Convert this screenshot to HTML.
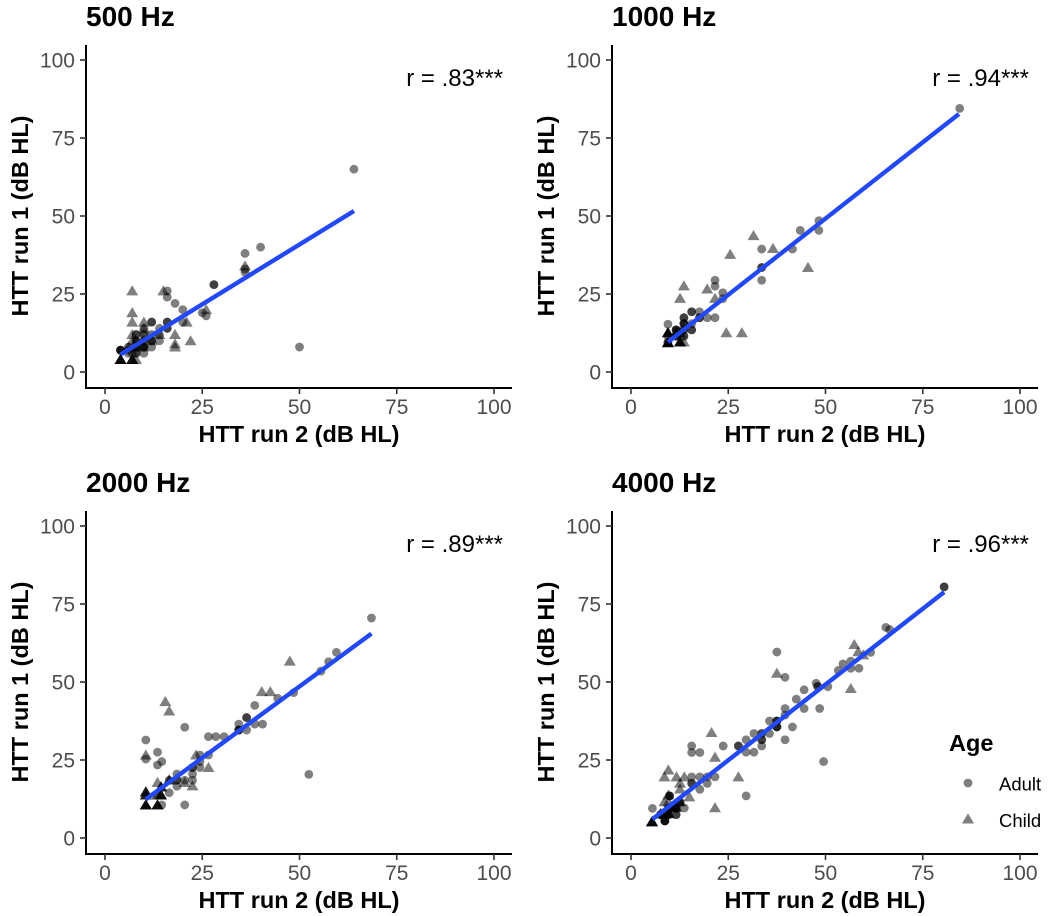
<!DOCTYPE html>
<html lang="en">
<head>
<meta charset="utf-8">
<title>HTT run 1 vs run 2 by frequency</title>
<style>
html,body{margin:0;padding:0;background:#fff;}
svg{display:block;font-family:"Liberation Sans",Arial,sans-serif;}
</style>
</head>
<body>
<svg id="chart" xmlns="http://www.w3.org/2000/svg" width="1050" height="916" viewBox="0 0 1050 916">
  <rect x="0" y="0" width="1050" height="916" fill="#ffffff"/>
</svg>
<script>
var tickValues = [0, 25, 50, 75, 100];
var xAxisLabel = 'HTT run 2 (dB HL)';
var yAxisLabel = 'HTT run 1 (dB HL)';

var adult500 = [[64,65],[50,8],[40,40],[36,38],[36,32],[36,33],[28,28],[28,28],[26,18],[25,19],[20,20],[18,22],[16,26],[16,24],[20,16],[16,16],[16,16],[16,14],[16,14],[14,14],[14,10],[12,16],[12,16],[12,12],[12,8],[10,14],[10,12],[10,12],[8,12],[8,12],[4,7],[4,7],[4,7],[4,7],[6,6],[6,7],[8,6],[8,6],[8,8],[8,8],[10,8],[10,8],[10,8],[10,10],[10,10],[12,10],[12,10],[8,10],[8,10],[6,8],[8,8],[7,6],[10,6],[14,12]];
var child500 = [[7,26],[15,26],[7,19],[7,16],[10,16],[21,16],[26,20],[36,34],[18,12],[22,10],[18,8],[18,9],[10,14],[7,12],[8,10],[7,10],[4,4],[4,4],[4,4],[4,4],[4,4],[7,4],[7,4],[7,4],[7,4],[8,4],[6,8],[8,8],[10,8],[14,12],[12,10]];
var line500X = [4, 64];
var line500Y = [5.6, 51.6];
var r500 = 'r = .83***';

var adult1000 = [[84.5,84.5],[48.3,48.5],[48.3,45.4],[43.5,45.4],[41.5,39.4],[33.6,39.4],[33.6,33.5],[33.6,33.5],[33.6,29.4],[21.6,29.4],[21.6,27.5],[23.6,25.4],[23.6,23.5],[15.6,19.3],[15.6,19.3],[17.6,19.3],[19.6,17.4],[21.6,17.4],[17.6,17.4],[17.6,17.4],[13.6,17.4],[13.6,17.4],[15.6,15.5],[9.5,15.3],[15.6,13.5],[15.6,13.5],[13.6,15.5],[13.6,15.5],[13.6,15.5],[11.6,13.5],[11.6,13.5],[11.6,13.5],[13.6,13.5],[13.6,13.5],[11.6,11.5],[11.6,11.5],[11.6,11.5],[13.6,11.5],[13.6,11.5],[9.5,11.5],[9.5,9.5],[9.5,9.5]];
var child1000 = [[31.5,43.7],[36.5,39.6],[25.5,37.7],[45.5,33.5],[13.6,27.6],[19.6,26.6],[12.6,23.6],[21.6,23.6],[24.5,12.6],[28.5,12.6],[9.5,9.4],[9.5,9.4],[9.5,9.4],[9.5,9.4],[9.5,9.4],[9.5,12.6],[9.5,12.6],[9.5,12.6],[9.5,12.6],[12.6,9.6],[12.6,9.6],[12.6,9.6],[12.6,9.6],[12.6,9.6],[13.6,9.6],[11.6,12.6],[11.6,12.6],[11.6,12.6],[12.6,12.6],[12.6,12.6]];
var line1000X = [9.5, 84.3];
var line1000Y = [9.6, 82.7];
var r1000 = 'r = .94***';

var adult2000 = [[68.5,70.5],[59.5,59.5],[57.5,56.5],[55.5,53.5],[52.4,20.4],[48.5,46.6],[44.4,44.8],[40.5,36.5],[38.5,42.5],[38.5,36.5],[36.4,38.6],[36.4,38.6],[36.4,34.6],[34.4,36.5],[34.4,34.6],[34.4,34.6],[34.4,34.6],[30.6,32.5],[28.5,32.5],[26.6,32.5],[26.6,26.6],[24.4,26.6],[24.4,22.6],[22.5,22.6],[22.5,22.6],[22.5,20.5],[22.5,18.5],[20.5,35.5],[20.5,18.5],[20.5,10.6],[18.5,20.5],[18.5,18.5],[18.5,18.5],[18.5,16.6],[16.5,18.5],[16.5,14.5],[14.6,24.5],[14.6,10.6],[13.5,27.5],[13.5,23.4],[10.5,31.4],[10.5,25.3],[24.4,24.5]];
var child2000 = [[47.5,56.7],[40.3,46.9],[42.5,46.9],[15.5,43.7],[16.5,40.7],[10.5,26.6],[23.4,26.6],[26.6,22.6],[13.5,17.8],[22.5,16.7],[20.5,17.8],[16.5,18.6],[16.5,18.6],[10.5,13.8],[10.5,13.8],[10.5,13.8],[10.5,14.8],[10.5,14.8],[10.5,14.8],[10.5,10.6],[10.5,10.6],[10.5,10.6],[10.5,10.6],[10.5,10.6],[14.4,13.8],[14.4,13.8],[14.4,13.8],[14.4,13.8],[13.5,13.8],[13.5,13.8],[14.4,16.4],[14.4,16.4],[14.4,16.4],[13.5,10.6],[13.5,10.6],[13.5,10.6],[13.5,10.6]];
var line2000X = [10.5, 68.5];
var line2000Y = [12.4, 65.5];
var r2000 = 'r = .89***';

var adult4000 = [[80.5,80.5],[80.5,80.5],[65.5,67.5],[66.5,66.8],[61.6,59.5],[58.6,54.4],[56.5,56.7],[56.5,54.4],[54.5,55.8],[53.3,53.7],[50.6,48.5],[49.5,24.5],[48,48.6],[48,48.6],[47.6,49.6],[48.5,41.5],[44.5,47.5],[44.5,41.5],[42.5,44.5],[41.5,35.6],[39.6,51.5],[39.6,41.5],[39.6,39.4],[39.6,31.5],[37.5,59.6],[37.5,37.5],[37.5,37.5],[37.5,37.5],[37.5,35.6],[37.5,35.6],[37.5,35.6],[35.6,37.5],[35.6,33.5],[33.6,33.5],[33.6,33.5],[33.6,31.5],[33.6,31.5],[33.6,29.5],[31.6,33.5],[31.6,27.5],[29.6,31.5],[29.6,27.5],[29.6,13.5],[27.6,29.5],[27.6,29.5],[23.7,29.5],[21.6,19.6],[19.6,19.6],[19.6,17.5],[17.7,27.4],[17.7,19.6],[17.7,15.6],[15.6,29.5],[15.6,27.4],[15.6,19.6],[15.6,17.5],[15.6,17.5],[13.7,9.6],[9.9,13.5],[9.9,13.5],[9.9,13.5],[5.5,9.5],[8.7,5.5],[8.7,5.5],[8.7,5.5],[8.7,5.5],[9.6,7.5],[9.6,7.5],[9.6,7.5],[11.6,9.5],[11.6,9.5],[11.6,9.5],[11.6,7.5],[11.6,7.5],[9.6,9.5],[9.6,9.5],[9.6,9.5],[12.6,11.5],[12.6,11.5],[7.6,7.5],[7.6,7.5],[7.6,7.5]];
var child4000 = [[57.4,62],[58.4,59.7],[59.7,58.7],[56.5,47.9],[37.5,52.8],[20.7,33.8],[21.6,25.9],[9.6,21.8],[8.6,19.6],[11.7,19.6],[13.7,19.6],[27.6,19.6],[21.6,9.7],[12.6,17.6],[12.6,15.7],[5.4,5.2],[5.4,5.2],[5.4,5.2],[5.4,5.2],[5.4,5.2],[15,13.2],[8.6,11.6],[9.6,13.8],[9.6,11.6],[10.6,9.8],[10.6,9.8],[10.6,9.8],[11.6,9.8],[11.6,9.8],[7.6,7.8],[7.6,7.8],[7.6,7.8],[9.6,7.8],[9.6,7.8],[9.6,7.8],[12.6,11.6],[12.6,11.6]];
var line4000X = [5.5, 80.5];
var line4000Y = [6, 78.8];
var r4000 = 'r = .96***';

var legendTitle = 'Age';
var legendLabels = ['Adult', 'Child'];

var svg = document.getElementById('chart');
var NS = 'http://www.w3.org/2000/svg';

function make(tag, attrs, parent, text) {
  var el = document.createElementNS(NS, tag);
  for (var k in attrs) { el.setAttribute(k, attrs[k]); }
  if (text !== undefined) { el.textContent = text; }
  parent.appendChild(el);
  return el;
}

function circlePoint(parent, cx, cy, r) {
  return make('circle', { cx: cx, cy: cy, r: r, fill: '#000000', 'fill-opacity': 0.5 }, parent);
}

function trianglePoint(parent, cx, cy) {
  var pts = (cx - 6) + ',' + (cy + 4.5) + ' ' + (cx + 6) + ',' + (cy + 4.5) + ' ' + cx + ',' + (cy - 5.6);
  return make('polygon', { points: pts, fill: '#000000', 'fill-opacity': 0.5 }, parent);
}

function drawPanel(slug, title, ox, oy, adult, child, lineX, lineY, rText) {
  function xScale(v) { return ox + 105 + v * 3.89; }
  function yScale(v) { return oy + 372 - v * 3.12; }

  var g = make('g', {}, svg);
  
  

  var titleEl = make('text', { x: ox + 86, y: oy + 26, 'font-size': 28, 'font-weight': 'bold', fill: '#000' }, g, title);
  
  

  var yAxis = make('line', { x1: ox + 86, x2: ox + 86, y1: oy + 45, y2: oy + 389, stroke: '#000', 'stroke-width': 2 }, g);
  
  

  var xAxis = make('line', { x1: ox + 85, x2: ox + 512, y1: oy + 388, y2: oy + 388, stroke: '#000', 'stroke-width': 2 }, g);
  
  

  tickValues.forEach(function (t) {
    var xt = make('line', { x1: xScale(t), x2: xScale(t), y1: oy + 388, y2: oy + 394, stroke: '#333', 'stroke-width': 1.6 }, g);
    
    

    var xl = make('text', { x: xScale(t), y: oy + 414, 'font-size': 21, fill: '#4d4d4d', 'text-anchor': 'middle' }, g, String(t));
    
    

    var yt = make('line', { x1: ox + 80, x2: ox + 86, y1: yScale(t), y2: yScale(t), stroke: '#333', 'stroke-width': 1.6 }, g);
    
    

    var yl = make('text', { x: ox + 75, y: yScale(t) + 7.5, 'font-size': 21, fill: '#4d4d4d', 'text-anchor': 'end' }, g, String(t));
    
    
  });

  var xTitle = make('text', { x: ox + 299, y: oy + 442, 'font-size': 23.5, 'font-weight': 'bold', fill: '#000', 'text-anchor': 'middle' }, g, xAxisLabel);
  
  

  var yTitle = make('text', { x: 0, y: 0, 'font-size': 23.5, 'font-weight': 'bold', fill: '#000', 'text-anchor': 'middle', transform: 'translate(' + (ox + 28) + ',' + (oy + 216) + ') rotate(-90)' }, g, yAxisLabel);
  
  

  adult.forEach(function (p) {
    var c = circlePoint(g, xScale(p[0]), yScale(p[1]), 4.4);
    
    
  });

  child.forEach(function (p) {
    var t = trianglePoint(g, xScale(p[0]), yScale(p[1]));
    
    
  });

  var fit = make('line', { x1: xScale(lineX[0]), y1: yScale(lineY[0]), x2: xScale(lineX[1]), y2: yScale(lineY[1]), stroke: '#2348f6', 'stroke-width': 4.4 }, g);
  
  

  var rLabel = make('text', { x: ox + 503, y: oy + 86, 'font-size': 24, fill: '#000', 'text-anchor': 'end' }, g, rText);
  
  
}

drawPanel('500-hz', '500 Hz', 0, 0, adult500, child500, line500X, line500Y, r500);
drawPanel('1000-hz', '1000 Hz', 526, 0, adult1000, child1000, line1000X, line1000Y, r1000);
drawPanel('2000-hz', '2000 Hz', 0, 466, adult2000, child2000, line2000X, line2000Y, r2000);
drawPanel('4000-hz', '4000 Hz', 526, 466, adult4000, child4000, line4000X, line4000Y, r4000);

var legend = make('g', {}, svg);



var legendHead = make('text', { x: 949, y: 751, 'font-size': 23.5, 'font-weight': 'bold', fill: '#000' }, legend, legendTitle);



var legendCircle = circlePoint(legend, 968, 783, 4.4);



var legendAdult = make('text', { x: 999, y: 790.5, 'font-size': 18.5, fill: '#000' }, legend, legendLabels[0]);



var legendTriangle = trianglePoint(legend, 968, 819);



var legendChild = make('text', { x: 999, y: 827, 'font-size': 18.5, fill: '#000' }, legend, legendLabels[1]);


</script>
</body>
</html>
